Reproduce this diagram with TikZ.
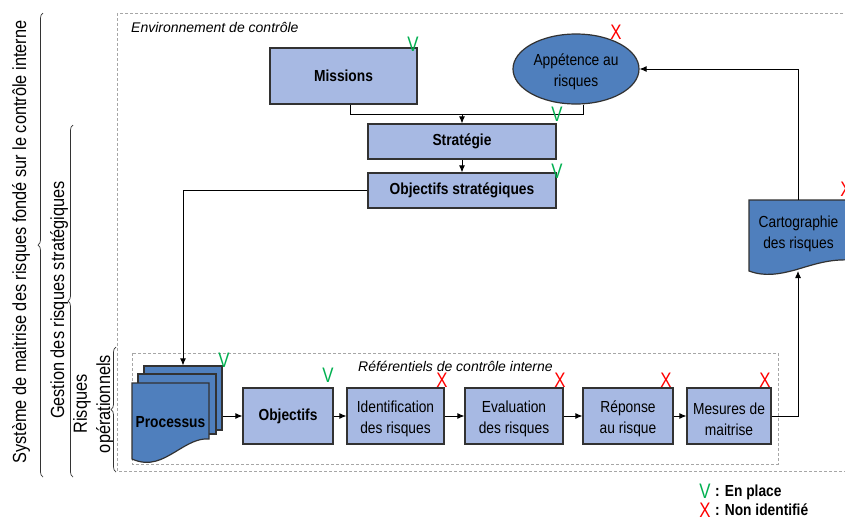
\documentclass[tikz,border=0pt]{standalone}
\usepackage{fontspec}
\setmainfont{Liberation Sans}
\newfontfamily\narrowfont{Liberation Sans}[FakeStretch=0.86]
\newfontfamily\markfont{Liberation Sans}[FakeStretch=0.8]
\usetikzlibrary{shapes.geometric,arrows.meta,decorations.pathreplacing,calc}
\definecolor{lightbox}{RGB}{167,185,227}
\definecolor{darkbox}{RGB}{79,127,189}
\definecolor{okgreen}{RGB}{0,176,80}
\definecolor{nored}{RGB}{255,0,0}
\definecolor{borderc}{RGB}{50,50,50}
\begin{document}
\begin{tikzpicture}[x=1pt,y=-1pt,
  lbox/.style={draw=borderc, line width=1.2pt, fill=lightbox, inner sep=0pt, align=center,
    font=\narrowfont\fontsize{16}{21}\selectfont},
  bbox/.style={lbox, font=\narrowfont\bfseries\fontsize{16}{21}\selectfont},
  dbox/.style={lbox, fill=darkbox},
  twoline/.style={label={[inner sep=0pt, align=center, yshift=-3pt,
    font=\narrowfont\fontsize{16}{21}\selectfont]center:#1}},
  arr/.style={-{Latex[length=7pt,width=6pt]}, line width=0.9pt},
  conn/.style={line width=0.9pt},
  dashbox/.style={draw=gray!70, dash pattern=on 3pt off 2pt, line width=0.9pt},
  okmark/.style={text=okgreen, font=\markfont\fontsize{21}{21}\selectfont, inner sep=0pt},
  nomark/.style={okmark, text=nored},
  sidelab/.style={rotate=90, font=\narrowfont\fontsize{19}{22}\selectfont, inner sep=0pt},
  brc/.style={decorate, decoration={brace, amplitude=5pt}, draw=black!80, line width=0.7pt},
  itlab/.style={font=\itshape\fontsize{14}{16}\selectfont, inner sep=0pt, anchor=west},
  legtxt/.style={font=\narrowfont\bfseries\fontsize{16}{18}\selectfont, inner sep=0pt, anchor=west}
]
\path[use as bounding box, fill=white] (0,0) rectangle (845,517);

% dashed frames
\draw[dashbox] (117,13) rectangle (852,471);
\draw[dashbox] (132,353) rectangle (778,464);
\node[itlab] (envlab) at (131,27) {Environnement de contrôle};
\node[itlab] (reflab) at (358,366) {Référentiels de contrôle interne};

% top boxes
\node[bbox, minimum width=147pt, minimum height=56pt] (mis) at (343.5,76) {Missions};
\node[dbox, shape=ellipse, minimum width=126pt, minimum height=70pt,
  twoline={Appétence au\\risques}] (app) at (576,69) {};
\node[bbox, minimum width=188pt, minimum height=35pt] (strat) at (462,141.5) {Stratégie};
\node[bbox, minimum width=188pt, minimum height=35pt] (objs) at (462,190.5) {Objectifs stratégiques};

% cartographie (document shape)
\filldraw[fill=darkbox, draw=borderc, line width=1.2pt]
  (749,200) -- (850,200) -- (850,260) .. controls (830,259) and (815,264) .. (795,270)
  .. controls (780,274) and (765,277) .. (749,271) -- cycle;
\node[inner sep=0pt, minimum width=99pt, minimum height=62pt,
  twoline={Cartographie\\des risques}] (carto) at (798.5,231) {};
\coordinate (cartob) at (798,271);

% processus (multi-document)
\node[dbox, minimum width=78pt, minimum height=64pt] (procA) at (183,398) {};
\node[dbox, minimum width=78pt, minimum height=60pt] (procB) at (177,404) {};
\filldraw[fill=darkbox, draw=borderc, line width=1.2pt]
  (132,383) -- (209,383) -- (209,439) .. controls (198,438) and (188,444) .. (175,452)
  .. controls (163,459) and (150,467) .. (132,459) -- cycle;
\node[inner sep=0pt, font=\narrowfont\bfseries\fontsize{16}{21}\selectfont] (proc) at (170.5,422) {Processus};

% bottom row
\node[bbox, minimum width=90pt, minimum height=56pt] (obj) at (288,416) {Objectifs};
\node[lbox, minimum width=97pt, minimum height=56pt, twoline={Identification\\des risques}] (ident) at (395.5,416) {};
\node[lbox, minimum width=98pt, minimum height=56pt, twoline={Evaluation\\des risques}] (eval) at (514,416) {};
\node[lbox, minimum width=90pt, minimum height=56pt, twoline={Réponse\\au risque}] (rep) at (628,416) {};
\node[lbox, minimum width=84pt, minimum height=56pt, twoline={Mesures de\\maitrise}] (mes) at (729,416) {};

% connectors
\coordinate (j1) at (462,114);
\draw[conn] ([xshift=7pt]mis.south) |- (j1);
\draw[conn] ([xshift=7pt]app.south) |- (j1);
\draw[arr] (j1) -- (strat.north);
\draw[arr] (strat.south) -- (objs.north);
\draw[arr] (objs.west) -| (procA.north);
\draw[arr] (procA.east |- obj.west) -- (obj.west);
\draw[arr] (obj.east) -- (ident.west);
\draw[arr] (ident.east) -- (eval.west);
\draw[arr] (eval.east) -- (rep.west);
\draw[arr] (rep.east) -- (mes.west);
\draw[arr] (mes.east) -| (cartob);
\draw[arr] (carto.north) |- (app.east);

% status marks
\node[okmark] (m1) at (413,44) {V};
\node[nomark] (m2) at (616,32) {X};
\node[okmark] (m3) at (557,114) {V};
\node[okmark] (m4) at (557,171) {V};
\node[nomark] (m5) at (846,189) {X};
\node[okmark] (m6) at (224,360) {V};
\node[okmark] (m7) at (328,375) {V};
\node[nomark] (m8) at (442,380) {X};
\node[nomark] (m9) at (560,380) {X};
\node[nomark] (m10) at (666,380) {X};
\node[nomark] (m11) at (765,380) {X};

% legend
\node[okmark] (lv) at (705,491) {V};
\node[legtxt] (lvt) at (715,492) {: En place};
\node[nomark] (lx) at (705,510) {X};
\node[legtxt] (lxt) at (715,510) {: Non identifié};

% side labels and braces
\node[sidelab] (sys) at (21,242) {Système de maitrise des risques fondé sur le contrôle interne};
\node[sidelab] (ges) at (59,300) {Gestion des risques stratégiques};
\node[sidelab] (ris1) at (82,404) {Risques};
\node[sidelab] (ris2) at (105,404) {opérationnels};
\coordinate (b1s) at (43,477); \coordinate (b1e) at (43,13);
\coordinate (b2s) at (73,477); \coordinate (b2e) at (73,125);
\coordinate (b3s) at (116,472); \coordinate (b3e) at (116,347);
\draw[brc] (b1s) -- (b1e);
\draw[brc] (b2s) -- (b2e);
\draw[brc] (b3s) -- (b3e);
\end{tikzpicture}
\end{document}
